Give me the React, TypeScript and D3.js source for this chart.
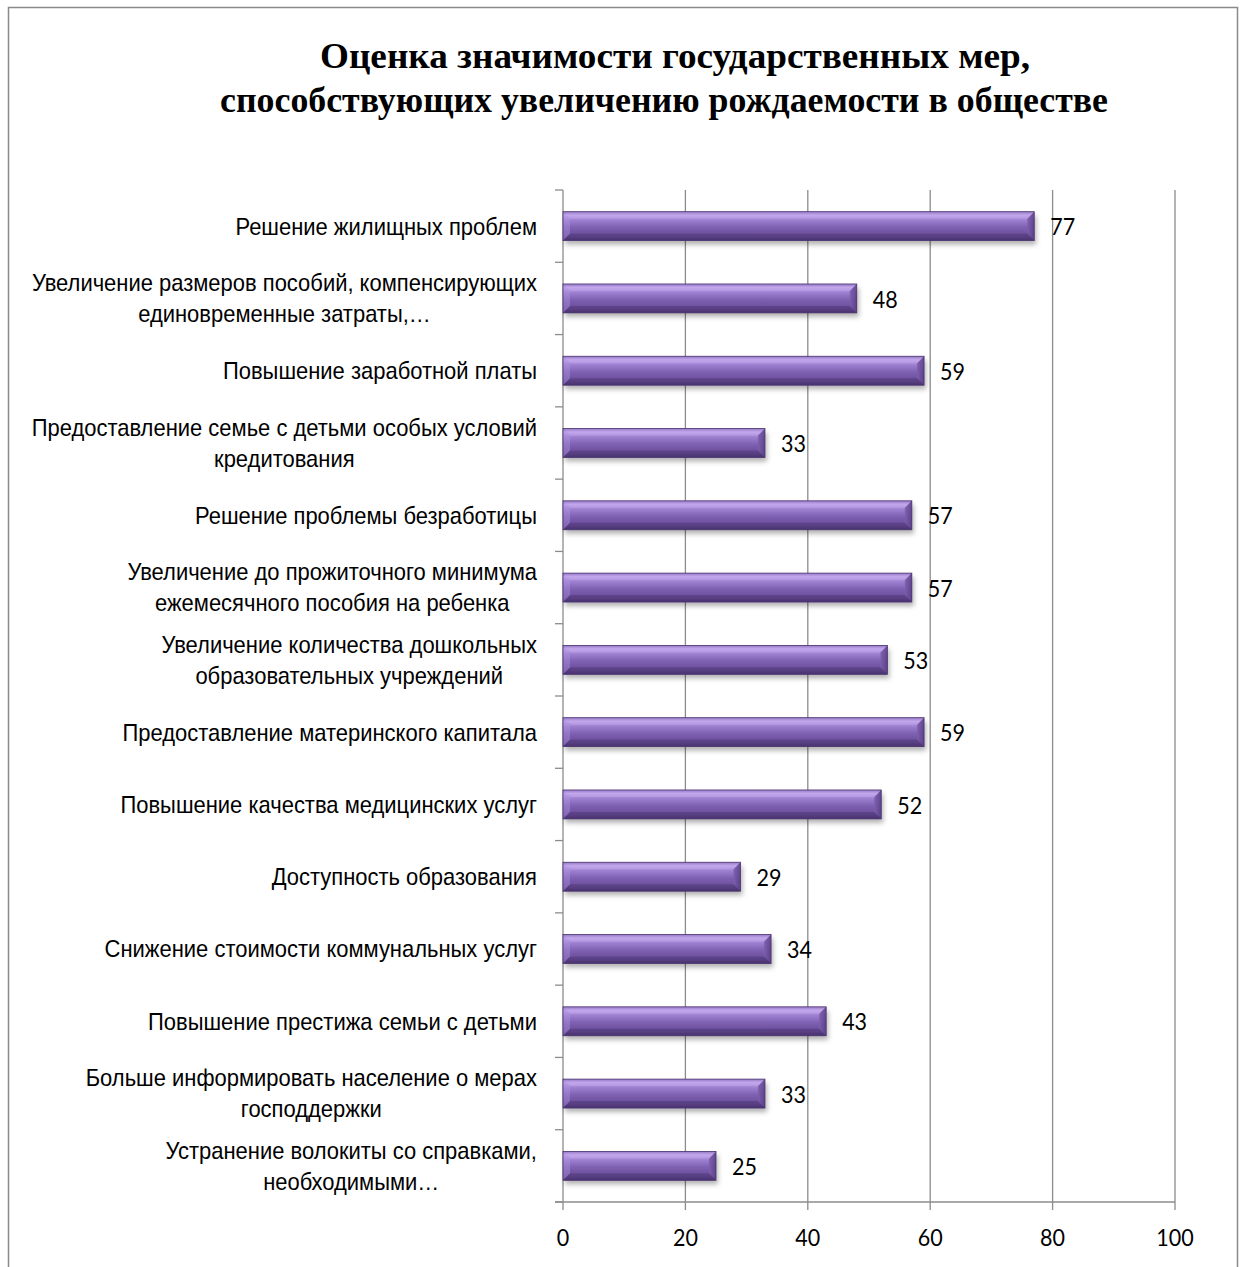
import React from "react";
import * as d3 from "d3";

const titleLines = [
  "Оценка значимости государственных мер,",
  "способствующих увеличению рождаемости в обществе",
];

const categories: string[][] = [
  ["Решение жилищных проблем"],
  ["Увеличение размеров пособий, компенсирующих", "единовременные затраты,…"],
  ["Повышение заработной платы"],
  ["Предоставление семье с детьми особых условий", "кредитования"],
  ["Решение проблемы безработицы"],
  ["Увеличение до прожиточного минимума", "ежемесячного пособия на ребенка"],
  ["Увеличение количества дошкольных", "образовательных учреждений"],
  ["Предоставление материнского капитала"],
  ["Повышение качества медицинских услуг"],
  ["Доступность образования"],
  ["Снижение стоимости коммунальных услуг"],
  ["Повышение престижа семьи с детьми"],
  ["Больше информировать население о мерах", "господдержки"],
  ["Устранение волокиты со справками,", "необходимыми…"],
];

const values = [77, 48, 59, 33, 57, 57, 53, 59, 52, 29, 34, 43, 33, 25];

const xTicks = [0, 20, 40, 60, 80, 100];

const W = 1241;
const H = 1267;
const plotLeft = 563;
const plotRight = 1175;
const plotTop = 190;
const plotBottom = 1202;
const SX = 0.915;
const labelRight = 537;
const labelFont = "24px 'Liberation Sans', Arial, sans-serif";

function squeeze(ax: number) {
  return `translate(${ax},0) scale(${SX},1) translate(${-ax},0)`;
}

let measureCtx: CanvasRenderingContext2D | null = null;
function measure(t: string): number {
  if (typeof document === "undefined") return t.length * 12;
  if (!measureCtx) {
    const c = document.createElement("canvas");
    measureCtx = c.getContext("2d");
  }
  if (!measureCtx) return t.length * 12;
  measureCtx.font = labelFont;
  return measureCtx.measureText(t).width;
}

export default function App() {
  const x = d3.scaleLinear().domain([0, 100]).range([plotLeft, plotRight]);
  const idx = categories.map((_, i) => String(i));
  const y = d3
    .scaleBand<string>()
    .domain(idx)
    .range([plotTop, plotBottom])
    .paddingInner(0.6)
    .paddingOuter(0.3);
  const step = y.step();
  const bw = y.bandwidth();
  const bevel = 7;

  return (
    <svg
      width={W}
      height={H}
      style={{ position: "absolute", left: 0, top: 0, display: "block" }}
    >
      <defs>
        <linearGradient id="barGrad" x1="0" y1="0" x2="0" y2="1">
          <stop offset="0" stopColor="#7a5cae" />
          <stop offset="0.12" stopColor="#c0a3ea" />
          <stop offset="0.3" stopColor="#9d7fd0" />
          <stop offset="0.55" stopColor="#7e60b2" />
          <stop offset="0.85" stopColor="#684c98" />
          <stop offset="1" stopColor="#4e3676" />
        </linearGradient>
        <linearGradient id="bevelR" x1="0" y1="0" x2="1" y2="0">
          <stop offset="0" stopColor="#7d5fae" />
          <stop offset="1" stopColor="#5a3f86" />
        </linearGradient>
        <filter id="shadow" x="-5%" y="-30%" width="110%" height="180%">
          <feDropShadow dx="2" dy="4" stdDeviation="2.5" floodColor="#000" floodOpacity="0.3" />
        </filter>
      </defs>
      <rect x={0} y={0} width={W} height={H} fill="#fff" />
      <rect x={8.5} y={7.5} width={1229} height={1280} fill="#fff" stroke="#8a8a8a" strokeWidth={1.5} />

      <text
        x={675}
        y={68}
        textAnchor="middle"
        fontFamily="'Liberation Serif', 'Times New Roman', serif"
        fontWeight="bold"
        fontSize={36}
        textLength={710}
        lengthAdjust="spacingAndGlyphs"
        fill="#000"
      >
        {titleLines[0]}
      </text>
      <text
        x={664}
        y={112}
        textAnchor="middle"
        fontFamily="'Liberation Serif', 'Times New Roman', serif"
        fontWeight="bold"
        fontSize={36}
        textLength={888}
        lengthAdjust="spacingAndGlyphs"
        fill="#000"
      >
        {titleLines[1]}
      </text>

      {/* gridlines */}
      {xTicks.map((t) => (
        <line
          key={"g" + t}
          x1={x(t)}
          x2={x(t)}
          y1={plotTop}
          y2={plotBottom + 8}
          stroke="#8c8c8c"
          strokeWidth={1.3}
        />
      ))}
      {/* bottom axis */}
      <line x1={plotLeft - 8} x2={plotRight} y1={plotBottom} y2={plotBottom} stroke="#8c8c8c" strokeWidth={1.3} />
      {/* y ticks */}
      {d3.range(categories.length + 1).map((i) => (
        <line
          key={"yt" + i}
          x1={plotLeft - 8}
          x2={plotLeft}
          y1={plotTop + i * step}
          y2={plotTop + i * step}
          stroke="#8c8c8c"
          strokeWidth={1.3}
        />
      ))}

      {/* bars */}
      {values.map((v, i) => {
        const y0 = y(String(i)) as number;
        const x0 = x(0);
        const x1 = x(v);
        return (
          <g key={"b" + i}>
            <rect x={x0} y={y0} width={x1 - x0} height={bw} fill="url(#barGrad)" filter="url(#shadow)" />
            <polygon
              points={`${x1 - bevel},${y0 + bevel} ${x1},${y0} ${x1},${y0 + bw} ${x1 - bevel},${y0 + bw - bevel}`}
              fill="url(#bevelR)"
              opacity={0.9}
            />
            <polygon
              points={`${x0},${y0} ${x1},${y0} ${x1 - bevel},${y0 + bevel} ${x0 + bevel},${y0 + bevel}`}
              fill="#c9b0f2"
              opacity={0.35}
            />
            <polygon
              points={`${x0 + bevel},${y0 + bw - bevel} ${x1 - bevel},${y0 + bw - bevel} ${x1},${y0 + bw} ${x0},${y0 + bw}`}
              fill="#3e2a60"
              opacity={0.35}
            />
            <polygon
              points={`${x0},${y0} ${x0 + bevel},${y0 + bevel} ${x0 + bevel},${y0 + bw - bevel} ${x0},${y0 + bw}`}
              fill="#b497e6"
              opacity={0.4}
            />
            <rect x={x0} y={y0} width={x1 - x0} height={bw} fill="none" stroke="#4b3470" strokeWidth={0.8} />
          </g>
        );
      })}

      {/* data labels */}
      {values.map((v, i) => {
        const lx = x(v) + 16;
        return (
          <text
            key={"l" + i}
            x={lx}
            y={(y(String(i)) as number) + bw / 2 + 1}
            dy="0.35em"
            transform={squeeze(lx)}
            fontFamily="Lato, 'Open Sans', sans-serif"
            fontSize={23.5}
            fill="#000"
          >
            {v}
          </text>
        );
      })}

      {/* category labels: block right-aligned, lines centred within block */}
      {categories.map((lines, i) => {
        const cy = (y(String(i)) as number) + bw / 2;
        const lh = 31;
        const start = cy - ((lines.length - 1) * lh) / 2;
        const maxW = Math.max(...lines.map(measure));
        const cx = labelRight - maxW / 2;
        return (
          <text
            key={"c" + i}
            textAnchor="middle"
            transform={squeeze(labelRight)}
            fontFamily="'Liberation Sans', Arial, sans-serif"
            fontSize={24}
            fill="#000"
          >
            {lines.map((ln, j) => (
              <tspan key={j} x={cx} y={start + j * lh} dy="0.35em">
                {ln}
              </tspan>
            ))}
          </text>
        );
      })}

      {/* x tick labels */}
      {xTicks.map((t) => (
        <text
          key={"xl" + t}
          x={x(t)}
          y={1238}
          dy="0.35em"
          textAnchor="middle"
          transform={squeeze(x(t))}
          fontFamily="Lato, 'Open Sans', sans-serif"
          fontSize={23.5}
          fill="#000"
        >
          {t}
        </text>
      ))}
    </svg>
  );
}
